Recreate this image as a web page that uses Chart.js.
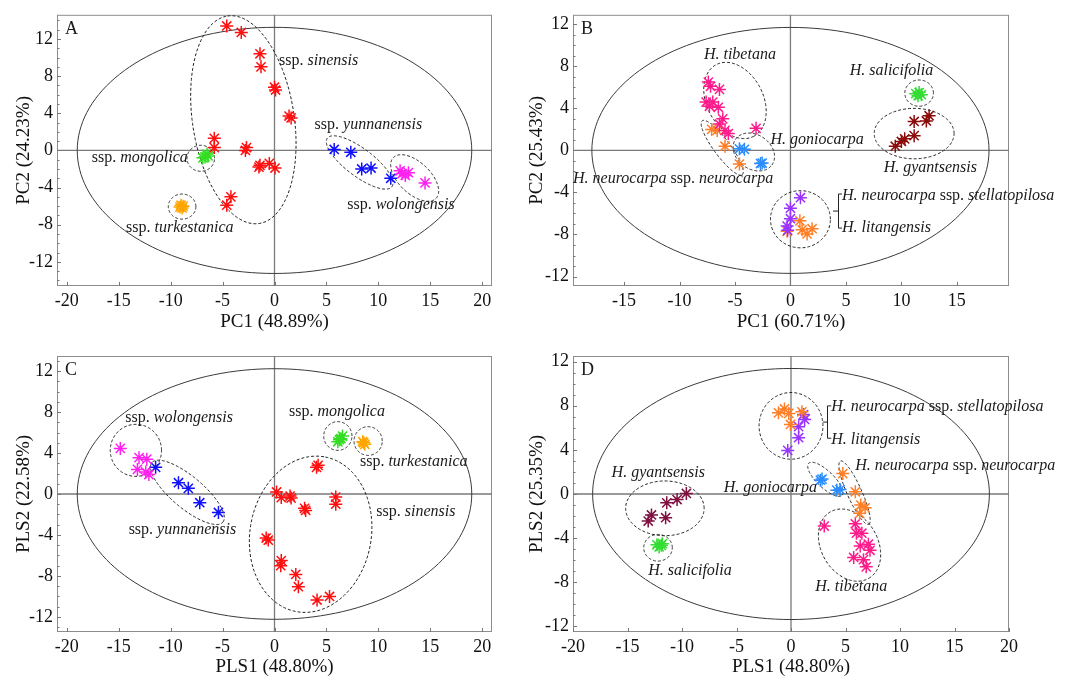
<!DOCTYPE html>
<html>
<head>
<meta charset="utf-8">
<script src="https://cdn.jsdelivr.net/npm/chart.js@4.4.0/dist/chart.umd.min.js"></script>
<style>
  html, body { margin: 0; padding: 0; background: #fff; }
  #wrap { position: relative; width: 1083px; height: 680px; }
  canvas { position: absolute; }
</style>
</head>
<body>
<div id="wrap">
  <canvas id="pA" width="500" height="340" style="left:0;top:0"></canvas>
  <canvas id="pB" width="583" height="340" style="left:500px;top:0"></canvas>
  <canvas id="pC" width="500" height="340" style="left:0;top:340px"></canvas>
  <canvas id="pD" width="583" height="340" style="left:500px;top:340px"></canvas>
</div>
<script>
// ---- tick labels
const xTicksWide = [-20, -15, -10, -5, 0, 5, 10, 15, 20];
const xTicksB = [-15, -10, -5, 0, 5, 10, 15];
const yTicks = [-12, -8, -4, 0, 4, 8, 12];

// ---- panel A (PCA, subspecies)
const aSinensis = [[-4.6,13.4],[-3.2,12.7],[-1.4,10.4],[-1.3,9.0],[0,6.8],[0.1,6.5],[1.4,3.7],[1.6,3.5],
  [-5.8,1.3],[-5.8,0.3],[-2.7,0.3],[-2.8,0.0],[-1.4,-1.6],[-1.5,-1.8],[-0.5,-1.4],[0.05,-1.9],[-4.2,-5.0],[-4.6,-5.9]];
const aMongolica = [[-6.5,-0.4],[-6.7,-0.7],[-6.4,-0.6],[-6.9,-0.8]];
const aTurkestanica = [[-9.0,-5.9],[-8.9,-6.2],[-9.1,-6.1],[-8.8,-6.0]];
const aYunnanensis = [[5.75,0.1],[7.35,-0.2],[8.4,-2.0],[9.3,-1.9],[11.2,-3.0]];
const aWolongensis = [[12.1,-2.2],[12.3,-2.5],[12.9,-2.4],[12.6,-2.7],[14.5,-3.5]];

// ---- panel B (PCA, species)
const bTibetana = [[-7.4,6.5],[-7.2,6.1],[-6.4,5.8],[-7.6,4.6],[-7.0,4.6],[-7.3,4.2],[-6.5,4.1],[-6.1,3.0],
  [-6.4,2.5],[-5.9,1.9],[-5.6,1.6],[-3.1,2.1]];
const bNeurocarpa = [[-7.1,2.0],[-6.6,1.9],[-5.9,0.4],[-4.6,-1.3]];
const bGoniocarpa = [[-4.6,0.15],[-4.15,0.1],[-2.7,-1.25],[-2.55,-1.2]];
const bSalicifolia = [[11.3,5.4],[11.6,5.5],[11.8,5.3],[11.5,5.2]];
const bGyantsensis = [[9.45,0.4],[10.0,0.85],[10.3,1.1],[11.15,1.4],[11.15,2.75],[12.25,2.8],[12.5,3.3]];
const bStellatopilosa = [[0.9,-4.5],[0,-5.5],[0,-6.5],[-0.3,-7.2],[-0.25,-7.6]];
const bLitangensis = [[0.85,-6.7],[1.05,-7.55],[1.5,-7.95],[1.95,-7.45],[-0.3,-7.7]];

// ---- panel C (PLS, subspecies)
const cWolongensis = [[-14.85,4.45],[-13.05,3.55],[-12.3,3.4],[-13.2,2.4],[-12.4,2.15],[-12.1,1.9]];
const cYunnanensis = [[-11.45,2.6],[-9.25,1.1],[-8.3,0.55],[-7.2,-0.85],[-5.4,-1.8]];
const cMongolica = [[6.25,5.3],[6.55,5.65],[6.1,5.1],[6.4,5.4]];
const cTurkestanica = [[8.6,5.0],[8.7,4.85],[8.5,5.1]];
const cSinensis = [[4.2,2.8],[4.05,2.6],[0.2,0.2],[0.65,-0.35],[1.5,-0.2],[1.6,-0.4],[2.9,-1.4],[3.0,-1.6],
  [5.9,-0.3],[5.9,-1.0],[-0.8,-4.3],[-0.6,-4.5],[0.65,-6.5],[0.6,-7.0],[2.05,-7.85],[2.3,-9.05],[4.1,-10.35],[5.3,-10.0]];

// ---- panel D (PLS, species)
const dLitangensis = [[-1.15,7.35],[-0.6,7.7],[-0.2,7.3],[-0.05,6.3],[1.0,7.45]];
const dStellatopilosa = [[1.15,7.2],[1.25,6.75],[0.7,6.1],[0.7,5.1],[-0.3,3.95]];
const dGoniocarpa = [[2.85,1.35],[2.7,1.25],[4.2,0.35],[4.5,0.4]];
const dNeurocarpa = [[4.75,1.85],[5.9,0.2],[6.4,-1.0],[6.8,-1.25],[6.3,-1.75]];
const dGyantsensis = [[-9.6,0.05],[-10.45,-0.5],[-11.4,-0.8],[-12.8,-1.9],[-13.1,-2.45],[-11.5,-2.15]];
const dSalicifolia = [[-12.3,-4.6],[-11.9,-4.65],[-12.1,-4.8],[-11.8,-4.5]];
const dTibetana = [[3.05,-2.9],[5.9,-2.7],[6.0,-3.55],[6.5,-3.55],[6.35,-4.7],[7.1,-4.55],[7.25,-5.1],
  [5.75,-5.75],[6.65,-5.95],[6.9,-6.6]];

const FONT = '"Liberation Serif", "Times New Roman", serif';

// ellipses in data units: centre c, conjugate half axes a and b
const ellA = [
  {c:[0,0], a:[19,0], b:[0,13.25], solid:true},
  {c:[-3.0,3.3], a:[-1.53,11.17], b:[4.84,0.83]},
  {c:[-7.1,-0.85], a:[1.33,0], b:[0,1.4]},
  {c:[-8.9,-6.05], a:[1.33,0], b:[0,1.35]},
  {c:[8.2,-1.3], a:[3.11,-2.61], b:[0.79,1.2]},
  {c:[13.5,-2.97], a:[2.06,-2.19], b:[1.05,1.22]}
];
const ellB = [
  {c:[0,0], a:[17.9,0], b:[0,11.7], solid:true},
  {c:[-5.0,4.75], a:[1.65,-3.43], b:[2.28,1.18]},
  {c:[-6.15,0.25], a:[1.8,-2.57], b:[0.6,0.46]},
  {c:[-3.3,-0.15], a:[1.62,-1.25], b:[0.93,1.3]},
  {c:[11.6,5.45], a:[1.29,0], b:[0,1.25]},
  {c:[11.15,1.6], a:[3.6,0], b:[0,2.4]},
  {c:[0.9,-6.55], a:[2.7,0], b:[0,2.72]}
];
const ellC = [
  {c:[0,0], a:[19,0], b:[0,12.23], solid:true},
  {c:[-13.35,4.26], a:[2.47,0], b:[0,2.54]},
  {c:[-8.39,0.16], a:[3.42,-2.9], b:[0.97,1.2]},
  {c:[3.48,-3.93], a:[1.42,7.54], b:[5.73,-1.14]},
  {c:[6.1,5.66], a:[1.36,0], b:[0,1.4]},
  {c:[9.02,5.17], a:[1.36,0], b:[0,1.4]}
];
const ellD = [
  {c:[0,0], a:[18.2,0], b:[0,11.37], solid:true},
  {c:[0,6.17], a:[2.93,0], b:[0,3.02]},
  {c:[-11.57,-1.3], a:[3.6,0], b:[0,2.48]},
  {c:[-12.2,-4.87], a:[1.31,0], b:[0,1.21]},
  {c:[3.15,1.33], a:[1.53,-1.45], b:[0.53,0.54]},
  {c:[5.83,0.12], a:[1.3,-2.87], b:[0.61,0.27]},
  {c:[5.37,-4.63], a:[1.76,-3.01], b:[2.25,1.28]}
];

// group labels, *...* = italic
const labA = [
  {x:0.44, y:9.22, t:'ssp. *sinensis*'},
  {x:3.86, y:2.33, t:'ssp. *yunnanensis*'},
  {x:-17.6, y:-1.2, t:'ssp. *mongolica*'},
  {x:-14.3, y:-8.8, t:'ssp. *turkestanica*'},
  {x:7.0, y:-6.33, t:'ssp. *wolongensis*'}
];
const labB = [
  {x:-7.8, y:8.73, t:'*H. tibetana*'},
  {x:5.34, y:7.17, t:'*H. salicifolia*'},
  {x:-1.8, y:0.62, t:'*H. goniocarpa*'},
  {x:8.4, y:-2.03, t:'*H. gyantsensis*'},
  {x:-19.6, y:-3.12, t:'*H. neurocarpa* ssp. *neurocarpa*'},
  {x:4.65, y:-4.68, t:'*H. neurocarpa* ssp. *stellatopilosa*'},
  {x:4.65, y:-7.8, t:'*H. litangensis*'}
];
const labC = [
  {x:-14.37, y:7.02, t:'ssp. *wolongensis*'},
  {x:1.39, y:7.6, t:'ssp. *mongolica*'},
  {x:8.23, y:2.73, t:'ssp. *turkestanica*'},
  {x:9.81, y:-2.15, t:'ssp. *sinensis*'},
  {x:-14.05, y:-3.93, t:'ssp. *yunnanensis*'}
];
const labD = [
  {x:3.69, y:7.53, t:'*H. neurocarpa* ssp. *stellatopilosa*'},
  {x:3.69, y:4.56, t:'*H. litangensis*'},
  {x:-16.46, y:1.57, t:'*H. gyantsensis*'},
  {x:5.89, y:2.15, t:'*H. neurocarpa* ssp. *neurocarpa*'},
  {x:-6.17, y:0.18, t:'*H. goniocarpa*'},
  {x:-13.1, y:-7.38, t:'*H. salicifolia*'},
  {x:2.23, y:-8.8, t:'*H. tibetana*'}
];

function pts(list) {
  return list.map(p => ({x: p[0], y: p[1]}));
}

function series(list, color) {
  return {
    data: pts(list),
    pointStyle: 'star',
    pointRadius: 6.5,
    pointBorderWidth: 1.5,
    borderColor: color,
    backgroundColor: color,
    showLine: false
  };
}

function drawEllipse(ctx, sx, sy, e) {
  ctx.beginPath();
  for (let i = 0; i <= 160; i++) {
    const t = i / 160 * Math.PI * 2;
    const vx = e.c[0] + e.a[0] * Math.cos(t) + e.b[0] * Math.sin(t);
    const vy = e.c[1] + e.a[1] * Math.cos(t) + e.b[1] * Math.sin(t);
    const px = sx.getPixelForValue(vx), py = sy.getPixelForValue(vy);
    if (i === 0) ctx.moveTo(px, py); else ctx.lineTo(px, py);
  }
  ctx.closePath();
  ctx.stroke();
}

function drawLabel(ctx, x, y, text) {
  const parts = text.split('*');
  let cx = x;
  ctx.textBaseline = 'alphabetic';
  ctx.textAlign = 'left';
  parts.forEach((p, i) => {
    if (!p) return;
    ctx.font = (i % 2 ? 'italic ' : '') + '16px ' + FONT;
    ctx.fillText(p, cx, y);
    cx += ctx.measureText(p).width;
  });
}

const decor = {
  id: 'decor',
  beforeDatasetsDraw(chart, args, opts) {
    const {ctx, chartArea: ca, scales: {x, y}} = chart;
    ctx.save();
    // frame
    ctx.strokeStyle = '#8c8c8c';
    ctx.lineWidth = 1;
    ctx.strokeRect(ca.left + 0.5, ca.top + 0.5, ca.width - 1, ca.height - 1);
    // ticks on the frame, pointing inward
    ctx.strokeStyle = '#777';
    for (let v = Math.ceil(y.min); v <= Math.floor(y.max); v++) {
      const py = Math.round(y.getPixelForValue(v)) + 0.5;
      ctx.beginPath();
      ctx.moveTo(ca.left, py);
      ctx.lineTo(ca.left + (v % 4 === 0 ? 4 : 2.5), py);
      ctx.stroke();
    }
    opts.xt.forEach(v => {
      const px = Math.round(x.getPixelForValue(v)) + 0.5;
      ctx.beginPath();
      ctx.moveTo(px, ca.bottom);
      ctx.lineTo(px, ca.bottom - 4);
      ctx.stroke();
    });
    ctx.beginPath();
    ctx.rect(ca.left, ca.top, ca.width, ca.height);
    ctx.clip();
    // zero lines
    ctx.strokeStyle = '#7a7a7a';
    ctx.lineWidth = 1.3;
    const x0 = x.getPixelForValue(0), y0 = y.getPixelForValue(0);
    ctx.beginPath();
    ctx.moveTo(x0, ca.top); ctx.lineTo(x0, ca.bottom);
    ctx.moveTo(ca.left, y0); ctx.lineTo(ca.right, y0);
    ctx.stroke();
    // ellipses
    opts.ell.forEach(e => {
      ctx.lineWidth = 1;
      ctx.strokeStyle = e.solid ? '#3a3a3a' : '#222';
      ctx.setLineDash(e.solid ? [] : [3, 2]);
      drawEllipse(ctx, x, y, e);
    });
    ctx.restore();
  },
  afterDatasetsDraw(chart, args, opts) {
    const {ctx, chartArea: ca, scales: {x, y}} = chart;
    ctx.save();
    ctx.fillStyle = '#1a1a1a';
    opts.labels.forEach(l => drawLabel(ctx, x.getPixelForValue(l.x), y.getPixelForValue(l.y), l.t));
    if (opts.bracket) {
      const b = opts.bracket;
      const bx = Math.round(x.getPixelForValue(b.x)) + 0.5;
      const y1 = y.getPixelForValue(b.y1), y2 = y.getPixelForValue(b.y2);
      const ym = (y1 + y2) / 2;
      ctx.strokeStyle = '#222';
      ctx.lineWidth = 1;
      ctx.beginPath();
      ctx.moveTo(x.getPixelForValue(b.xEnd), y1);
      ctx.lineTo(bx, y1);
      ctx.lineTo(bx, y2);
      ctx.lineTo(x.getPixelForValue(b.xEnd), y2);
      ctx.moveTo(bx, ym);
      ctx.lineTo(x.getPixelForValue(b.xTip), ym);
      ctx.stroke();
    }
    ctx.font = '18px ' + FONT;
    ctx.textAlign = 'left';
    ctx.textBaseline = 'alphabetic';
    ctx.fillText(opts.letter, ca.left + 8, ca.top + 19);
    ctx.restore();
  }
};

function makePanel(id, cfg) {
  new Chart(document.getElementById(id), {
    type: 'scatter',
    data: {datasets: cfg.sets},
    plugins: [decor],
    options: {
      responsive: false,
      animation: false,
      devicePixelRatio: 1,
      layout: {padding: {top: cfg.top, right: cfg.right, left: 0, bottom: 0}},
      plugins: {
        legend: {display: false},
        tooltip: {enabled: false},
        decor: {ell: cfg.ell, labels: cfg.labels, letter: cfg.letter, bracket: cfg.bracket, xt: cfg.xt}
      },
      scales: {
        x: {
          type: 'linear', min: cfg.xr[0], max: cfg.xr[1],
          grid: {display: false, drawTicks: false},
          border: {display: false},
          afterBuildTicks: s => { s.ticks = cfg.xt.map(v => ({value: v})); },
          afterFit: s => { s.height = cfg.xh; },
          ticks: {font: {family: FONT, size: 18}, color: '#111', padding: 4, maxRotation: 0, autoSkip: false},
          title: {display: true, text: cfg.xTitle, font: {family: FONT, size: 19}, color: '#111',
                  padding: {top: 0, bottom: cfg.xtp}}
        },
        y: {
          type: 'linear', min: cfg.yr[0], max: cfg.yr[1],
          grid: {display: false, drawTicks: false},
          border: {display: false},
          afterBuildTicks: s => { s.ticks = yTicks.map(v => ({value: v})); },
          afterFit: s => { s.width = cfg.yw; },
          ticks: {font: {family: FONT, size: 18}, color: '#111', padding: 4, autoSkip: false},
          title: {display: true, text: cfg.yTitle, font: {family: FONT, size: 19}, color: '#111',
                  padding: {top: cfg.ytp, bottom: 0}}
        }
      }
    }
  });
}

makePanel('pA', {
  sets: [
    series(aSinensis, '#ff1010'),
    series(aMongolica, '#33dd22'),
    series(aTurkestanica, '#ffa500'),
    series(aYunnanensis, '#1010ff'),
    series(aWolongensis, '#ff22ee')
  ],
  ell: ellA, labels: labA, letter: 'A',
  xr: [-20.95, 20.95], yr: [-14.6, 14.6], xt: xTicksWide,
  top: 10, right: 3, yw: 57, xh: 54, xtp: 6.6, ytp: 13,
  xTitle: 'PC1 (48.89%)', yTitle: 'PC2 (24.23%)'
});

makePanel('pB', {
  sets: [
    series(bTibetana, '#ff1a8c'),
    series(bNeurocarpa, '#ff7f27'),
    series(bGoniocarpa, '#2a8cff'),
    series(bSalicifolia, '#33dd33'),
    series(bGyantsensis, '#8b0a0a'),
    series(bStellatopilosa, '#9933ff'),
    series(bLitangensis, '#ff7f27')
  ],
  ell: ellB, labels: labB, letter: 'B',
  bracket: {x: 4.29, y1: -4.15, y2: -7.39, xTip: 3.84, xEnd: 4.65},
  xr: [-19.6, 19.7], yr: [-12.9, 12.9], xt: xTicksB,
  top: 10, right: 74, yw: 73, xh: 54, xtp: 6.6, ytp: 25.6,
  xTitle: 'PC1 (60.71%)', yTitle: 'PC2 (25.43%)'
});

makePanel('pC', {
  sets: [
    series(cWolongensis, '#ff22ee'),
    series(cYunnanensis, '#1010ff'),
    series(cMongolica, '#33dd22'),
    series(cTurkestanica, '#ffa500'),
    series(cSinensis, '#ff1010')
  ],
  ell: ellC, labels: labC, letter: 'C',
  xr: [-20.95, 20.95], yr: [-13.47, 13.47], xt: xTicksWide,
  top: 16, right: 3, yw: 57, xh: 48, xtp: 1.6, ytp: 13,
  xTitle: 'PLS1 (48.80%)', yTitle: 'PLS2 (22.58%)'
});

makePanel('pD', {
  sets: [
    series(dLitangensis, '#ff7f27'),
    series(dStellatopilosa, '#9933ff'),
    series(dGoniocarpa, '#2a8cff'),
    series(dNeurocarpa, '#ff7f27'),
    series(dGyantsensis, '#7f1040'),
    series(dSalicifolia, '#33dd33'),
    series(dTibetana, '#ff1a8c')
  ],
  ell: ellD, labels: labD, letter: 'D',
  bracket: {x: 3.3, y1: 7.98, y2: 5.05, xTip: 2.93, xEnd: 3.69},
  xr: [-20, 20], yr: [-12.5, 12.5], xt: xTicksWide,
  top: 16, right: 74, yw: 73, xh: 48, xtp: 1.6, ytp: 25.6,
  xTitle: 'PLS1 (48.80%)', yTitle: 'PLS2 (25.35%)'
});
</script>
</body>
</html>
